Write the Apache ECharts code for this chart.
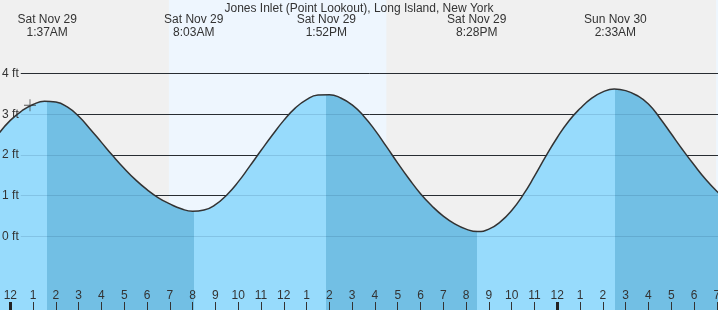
<!DOCTYPE html>
<html><head><meta charset="utf-8">
<script src="https://cdn.jsdelivr.net/npm/echarts@6/dist/echarts.min.js"></script>
<style>html,body{margin:0;padding:0;background:#f0f0f0;overflow:hidden}#c{width:718px;height:310px}</style>
</head><body><div id="c"></div>
<script>
// ---- data (hours from Sat Nov 29 00:00, heights in ft) ----
const titleText = 'Jones Inlet (Point Lookout), Long Island, New York';
const hours   = [-0.5, 0, 0.5, 1, 1.5, 2, 2.5, 3, 3.5, 4, 4.5, 5, 5.5, 6, 6.5, 7, 7.5, 8, 8.5, 9, 9.5, 10, 10.5, 11, 11.5, 12, 12.5, 13, 13.5, 14, 14.5, 15, 15.5, 16, 16.5, 17, 17.5, 18, 18.5, 19, 19.5, 20, 20.5, 21, 21.5, 22, 22.5, 23, 23.5, 24, 24.5, 25, 25.5, 26, 26.5, 27, 27.5, 28, 28.5, 29, 29.5, 30, 30.5, 31, 31.5];
const heights = [2.53, 2.85, 3.08, 3.24, 3.32, 3.30, 3.18, 2.95, 2.64, 2.31, 1.98, 1.67, 1.39, 1.15, 0.95, 0.80, 0.68, 0.62, 0.65, 0.78, 1.02, 1.34, 1.72, 2.11, 2.49, 2.85, 3.15, 3.36, 3.47, 3.48, 3.40, 3.23, 2.96, 2.61, 2.21, 1.80, 1.41, 1.05, 0.75, 0.50, 0.31, 0.18, 0.12, 0.18, 0.36, 0.64, 1.02, 1.48, 1.97, 2.43, 2.83, 3.14, 3.39, 3.55, 3.62, 3.58, 3.46, 3.25, 2.91, 2.52, 2.13, 1.76, 1.41, 1.11, 0.86];
const tideTimes  = [1.617, 8.05, 13.867, 20.467, 26.55];
const tideKinds  = ['high', 'low', 'high', 'low', 'high'];
const tideLabels = ['Sat Nov 29\n1:37AM', 'Sat Nov 29\n8:03AM', 'Sat Nov 29\n1:52PM', 'Sat Nov 29\n8:28PM', 'Sun Nov 30\n2:33AM'];
const tickHours  = [0,1,2,3,4,5,6,7,8,9,10,11,12,13,14,15,16,17,18,19,20,21,22,23,24,25,26,27,28,29,30,31];
const tickLabels = ['12','1','2','3','4','5','6','7','8','9','10','11','12','1','2','3','4','5','6','7','8','9','10','11','12','1','2','3','4','5','6','7'];
const midnightHours = [0, 24];
const ftLevels = [0, 1, 2, 3, 4];
const ftLabels = ['0 ft', '1 ft', '2 ft', '3 ft', '4 ft'];
const sunrise = [6.96, 30.97];
const sunset  = [16.50, 31.053];
const markerTime = [0.864];
const markerHeight = [3.22];

// ---- view ranges ----
const X_MIN = -0.452, X_MAX = 31.053;
const Y_MIN = -1.804, Y_MAX = 5.804;
const GRID_START = 0.46;
const FONT = '"Liberation Sans", Arial, sans-serif';
const LIGHT = '#97dbfc', DARK = '#72bfe4';

const tideData = hours.map((h, i) => [h, heights[i]]);

// visual pieces: rising (ending at high) light, falling (ending at low) dark
const pieces = [];
let prev = null;
tideTimes.forEach((t, i) => {
  const color = tideKinds[i] === 'high' ? LIGHT : DARK;
  const p = { lt: t, color };
  if (prev !== null) p.gte = prev;
  pieces.push(p);
  prev = t;
});
pieces.push({ gte: prev, color: tideKinds[tideKinds.length - 1] === 'high' ? DARK : LIGHT });

const lineCoords = ftLevels.map(v => [{ coord: [GRID_START, v] }, { coord: [X_MAX, v] }]);
const lineCoordsLabeled = ftLevels.map((v, i) => [
  { coord: [GRID_START, v], name: ftLabels[i] }, { coord: [X_MAX, v] }]);

const chart = echarts.init(document.getElementById('c'), null, { renderer: 'canvas' });
chart.setOption({
  animation: false,
  backgroundColor: '#f0f0f0',
  textStyle: { fontFamily: FONT },
  title: {
    text: titleText, left: 'center', top: 0, padding: [3, 0, 0, 0],
    textStyle: { fontSize: 12, fontWeight: 'normal', color: '#333', fontFamily: FONT }
  },
  grid: { left: 0, right: 0, top: 0, bottom: 0, containLabel: false, outerBoundsMode: 'none' },
  xAxis: [
    {
      type: 'value', min: X_MIN, max: X_MAX, z: 10, position: 'bottom',
      axisLine: { show: false, onZero: false }, splitLine: { show: false },
      axisTick: { show: true, inside: true, length: 8, customValues: tickHours, lineStyle: { color: '#333', width: 1 } },
      axisLabel: {
        show: true, inside: true, margin: 8, customValues: tickHours,
        fontSize: 12, color: '#333', fontFamily: FONT,
        formatter: v => tickLabels[tickHours.indexOf(Math.round(v))]
      }
    },
    {
      type: 'value', min: X_MIN, max: X_MAX, z: 11, position: 'bottom',
      axisLine: { show: false, onZero: false }, splitLine: { show: false }, axisLabel: { show: false },
      axisTick: { show: true, inside: true, length: 8, customValues: midnightHours, lineStyle: { color: '#222', width: 3 } }
    },
    {
      type: 'value', min: X_MIN, max: X_MAX, z: 10, position: 'top',
      axisLine: { show: false, onZero: false }, splitLine: { show: false }, axisTick: { show: false },
      axisLabel: {
        show: true, inside: true, margin: 13, customValues: tideTimes,
        fontSize: 12, lineHeight: 13, color: '#333', fontFamily: FONT, align: 'center',
        formatter: v => {
          let best = 0;
          tideTimes.forEach((t, i) => { if (Math.abs(t - v) < Math.abs(tideTimes[best] - v)) best = i; });
          return tideLabels[best];
        }
      }
    }
  ],
  yAxis: {
    type: 'value', min: Y_MIN, max: Y_MAX,
    axisLine: { show: false, onZero: false }, axisTick: { show: false }, axisLabel: { show: false }, splitLine: { show: false }
  },
  visualMap: {
    show: false, type: 'piecewise', seriesIndex: 2, dimension: 0, pieces
  },
  series: [
    { // daylight bands
      type: 'line', z: 0, data: [], silent: true,
      markArea: {
        silent: true, z: 0,
        itemStyle: { color: '#eef6fe' },
        data: sunrise.map((s, i) => [{ xAxis: s }, { xAxis: sunset[i] }])
      }
    },
    { // dark gridlines under the water
      type: 'line', z: 1, data: [], silent: true,
      markLine: {
        silent: true, z: 1, symbol: ['none', 'none'], label: { show: false },
        lineStyle: { color: '#2e2e2e', width: 1, type: 'solid' },
        data: lineCoords
      }
    },
    { // water area
      type: 'line', z: 2, data: tideData, smooth: 0.5,
      showSymbol: false, silent: true,
      lineStyle: { width: 0 },
      areaStyle: { opacity: 1, origin: 'start' }
    },
    { // curve stroke
      type: 'line', z: 3, data: tideData, smooth: 0.5,
      showSymbol: false, silent: true,
      lineStyle: { width: 1.5, color: '#333' }
    },
    { // faint gridlines over the water + labels
      type: 'line', z: 4, data: [], silent: true,
      markLine: {
        silent: true, z: 4, symbol: ['none', 'none'],
        label: { show: true, position: 'start', distance: 2, formatter: p => p.name, color: '#333', fontSize: 12, fontFamily: FONT },
        lineStyle: { color: 'rgba(0,40,80,0.13)', width: 1, type: 'solid' },
        data: lineCoordsLabeled
      }
    },
    { // current-time cross marker
      type: 'scatter', z: 5, silent: true,
      data: markerTime.map((t, i) => [t, markerHeight[i]]),
      symbol: 'path://M9.3,0H10.7V9.3H20V10.7H10.7V20H9.3V10.7H0V9.3H9.3Z',
      symbolSize: 12, itemStyle: { color: '#333' }
    }
  ]
});
</script>
</body></html>
